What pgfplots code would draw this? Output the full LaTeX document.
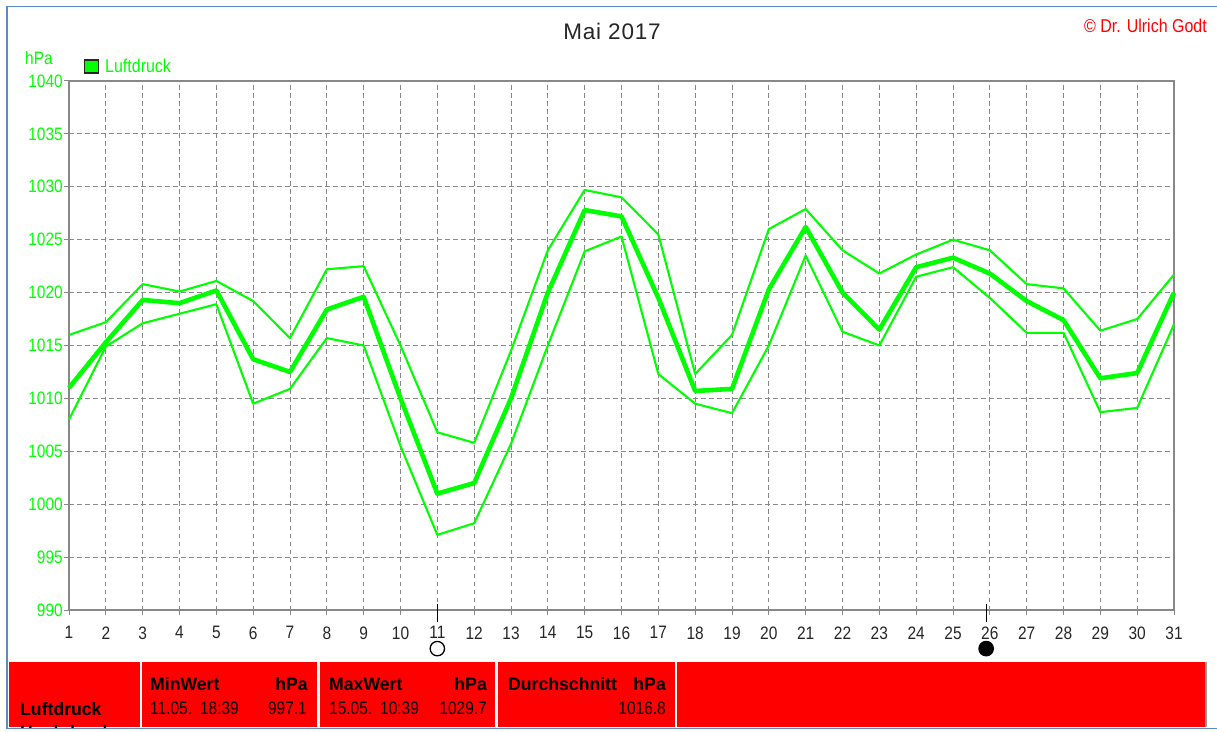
\documentclass[border=0pt]{standalone}
\usepackage{pgfplots}
\pgfplotsset{compat=1.18}
\usepackage{fontspec}
\setmainfont[FakeStretch=0.86]{Liberation Sans}
\newfontfamily\bfam[FakeStretch=0.98]{Liberation Sans Bold}
\newfontfamily\tfam[LetterSpace=3.5]{Liberation Sans}
\definecolor{lg}{RGB}{0,255,0}
\definecolor{gridg}{RGB}{136,136,136}
\definecolor{frameb}{RGB}{91,138,197}
\definecolor{panelr}{RGB}{255,0,0}
\pgfplotstableread{
d mean max min
1 1011 1016 1008
2 1015.3 1017.2 1014.9
3 1019.3 1020.8 1017.1
4 1019 1020.1 1018
5 1020.2 1021.1 1018.9
6 1013.7 1019.2 1009.5
7 1012.5 1015.7 1010.9
8 1018.4 1022.2 1015.7
9 1019.6 1022.5 1015
10 1010 1015 1005.5
11 1001 1006.8 997.1
12 1002 1005.8 998.2
13 1010 1014.5 1005.7
14 1020 1024 1015
15 1027.8 1029.7 1023.9
16 1027.2 1029 1025.3
17 1019.5 1025.5 1012.3
18 1010.7 1012.3 1009.5
19 1010.9 1016 1008.6
20 1020.3 1026 1015
21 1026.2 1027.9 1023.5
22 1020 1024 1016.3
23 1016.5 1021.8 1015
24 1022.4 1023.6 1021.5
25 1023.3 1025 1022.4
26 1021.8 1024 1019.5
27 1019.2 1020.8 1016.2
28 1017.4 1020.4 1016.2
29 1011.9 1016.4 1008.7
30 1012.4 1017.5 1009.1
31 1020 1021.7 1017
}\press
\begin{document}
\begin{tikzpicture}[x=1pt,y=1pt]
\useasboundingbox (0,0) rectangle (1217,731);
\fill[white] (0,0) rectangle (1217,731);
\draw[frameb,line width=1.6pt] (1217,2.5) -- (7,2.5) -- (7,724.5) -- (1217,724.5);
\foreach \a/\b in {9/140,142/317,320/495,498/675,677/1205}{
  \fill[panelr] (\a,4) rectangle (\b,69);
}
\fill[black!40] (1205,4) rectangle (1206.5,69);
\begin{axis}[
  at={(69pt,121pt)},anchor=south west,
  scale only axis,width=1105pt,height=529pt,
  xmin=1,xmax=31,ymin=990,ymax=1040,
  xtick={1,...,31},ytick={990,995,...,1040},
  tick align=outside,
  tick style={gridg,line width=1pt},
  major tick length=5pt,
  xtick pos=bottom,ytick pos=left,
  grid=major,
  grid style={gridg,line width=0.9pt,dash pattern=on 4.5pt off 3.5pt},
  axis line style={gridg,line width=2.4pt},
  clip=false,
  /pgf/number format/.cd,set thousands separator={},assume math mode=true,
  /pgfplots/.cd,
  xticklabel style={font=\fontsize{18}{20}\selectfont,text=black!85,yshift=-8pt},
  yticklabel style={font=\fontsize{18}{20}\selectfont,text=lg,inner sep=1pt,xshift=0pt},
]
\addplot[lg,line width=2.1pt,line join=round] table[x=d,y=max]{\press};
\addplot[lg,line width=2.1pt,line join=round] table[x=d,y=min]{\press};
\addplot[lg,line width=4.6pt,line join=round] table[x=d,y=mean]{\press};
\addplot[black,line width=1pt] coordinates {(11,990.55) (11,988.85)};
\addplot[black,line width=1pt] coordinates {(25.9,990.55) (25.9,988.85)};
\addplot[only marks,mark=*,mark size=7.2pt,mark options={draw=black,fill=white,line width=1.3pt}] coordinates {(11,986.35)};
\addplot[only marks,mark=*,mark size=7.2pt,mark options={draw=black,fill=black,line width=1.3pt}] coordinates {(25.9,986.35)};
\end{axis}
\node[inner sep=0pt,font=\tfam\fontsize{22.5}{24}\selectfont,text=black!85] at (612,700) {Mai 2017};
\node[inner sep=0pt,anchor=east,font=\fontsize{18.6}{20}\selectfont,text=panelr] at (1207,705) {© Dr. Ulrich Godt};
\node[inner sep=0pt,anchor=west,font=\fontsize{18}{20}\selectfont,text=lg] at (25,673) {hPa};
\fill[lg] (84.5,658) rectangle (98.5,671);
\draw[black!85,line width=1.2pt] (84.5,658) rectangle (98.5,671);
\node[inner sep=0pt,anchor=west,font=\fontsize{18.6}{20}\selectfont,text=lg] at (105,665) {Luftdruck};
\begin{scope}
\clip (9,4) rectangle (140,69);
\node[inner sep=0pt,anchor=west,font=\bfam\fontsize{18}{20}\selectfont] at (20,22) {Luftdruck};
\node[inner sep=0pt,anchor=west,font=\bfam\fontsize{18}{20}\selectfont] at (20,-1) {Hochdruck};
\end{scope}
\node[inner sep=0pt,anchor=west,font=\bfam\fontsize{18}{20}\selectfont] at (150,47) {MinWert};
\node[inner sep=0pt,anchor=east,font=\bfam\fontsize{18}{20}\selectfont] at (308,47) {hPa};
\node[inner sep=0pt,anchor=west,font=\fontsize{18}{20}\selectfont] at (150,23) {11.05.\hspace{8pt}18:39};
\node[inner sep=0pt,anchor=east,font=\fontsize{18}{20}\selectfont] at (307,23) {997.1};
\node[inner sep=0pt,anchor=west,font=\bfam\fontsize{18}{20}\selectfont] at (329,47) {MaxWert};
\node[inner sep=0pt,anchor=east,font=\bfam\fontsize{18}{20}\selectfont] at (487,47) {hPa};
\node[inner sep=0pt,anchor=west,font=\fontsize{18}{20}\selectfont] at (329,23) {15.05.\hspace{8pt}10:39};
\node[inner sep=0pt,anchor=east,font=\fontsize{18}{20}\selectfont] at (487,23) {1029.7};
\node[inner sep=0pt,anchor=west,font=\bfam\fontsize{18}{20}\selectfont] at (508,47) {Durchschnitt};
\node[inner sep=0pt,anchor=east,font=\bfam\fontsize{18}{20}\selectfont] at (666,47) {hPa};
\node[inner sep=0pt,anchor=east,font=\fontsize{18}{20}\selectfont] at (666,23) {1016.8};
\end{tikzpicture}
\end{document}
